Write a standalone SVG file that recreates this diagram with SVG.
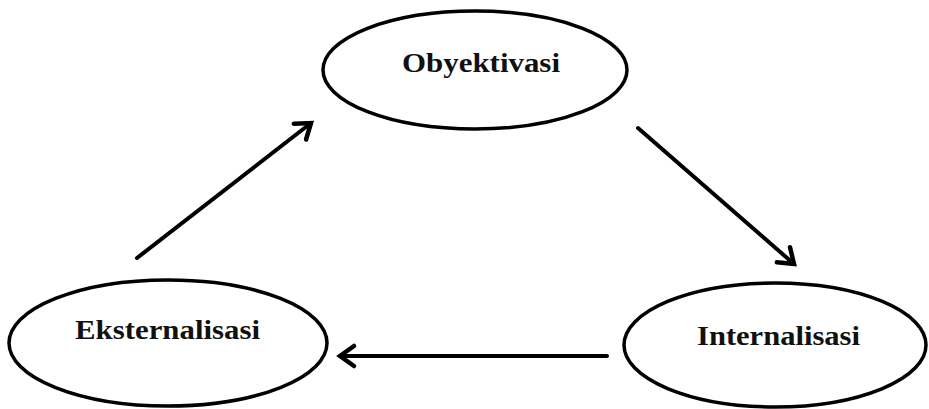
<svg xmlns="http://www.w3.org/2000/svg" width="929" height="409" viewBox="0 0 929 409">
<style>
.node ellipse{fill:#fff;stroke:#000;stroke-width:3.5}
.node text{font-family:"Liberation Serif","Times New Roman",serif;font-weight:bold;font-size:28px;fill:#111}
.conn line{stroke:#000;stroke-width:4;stroke-linecap:round}
</style>
<defs>
<marker id="arr" markerUnits="userSpaceOnUse" markerWidth="30" markerHeight="30" refX="0" refY="0" viewBox="-20 -15 30 30" orient="auto" overflow="visible">
<path d="M-14,-10 L0,0 L-14,10" fill="none" stroke="#000" stroke-width="4.5" stroke-linecap="round" stroke-linejoin="miter"/>
</marker>
</defs>
<rect width="929" height="409" fill="#fff"/>
<g id="obyektivasi" class="node">
<ellipse cx="475" cy="70" rx="152" ry="59"/>
<text x="402" y="72" textLength="158" lengthAdjust="spacingAndGlyphs">Obyektivasi</text>
</g>
<g id="eksternalisasi" class="node">
<ellipse cx="168" cy="343" rx="159" ry="63"/>
<text x="75" y="339" textLength="185" lengthAdjust="spacingAndGlyphs">Eksternalisasi</text>
</g>
<g id="internalisasi" class="node">
<ellipse cx="775" cy="345" rx="151" ry="62"/>
<text x="697" y="345" textLength="163" lengthAdjust="spacingAndGlyphs">Internalisasi</text>
</g>
<g id="connectors" class="conn">
<line x1="137" y1="258" x2="311" y2="123" marker-end="url(#arr)"/>
<line x1="638" y1="128" x2="794" y2="264" marker-end="url(#arr)"/>
<line x1="607" y1="356" x2="340" y2="356" marker-end="url(#arr)"/>
</g>
</svg>
